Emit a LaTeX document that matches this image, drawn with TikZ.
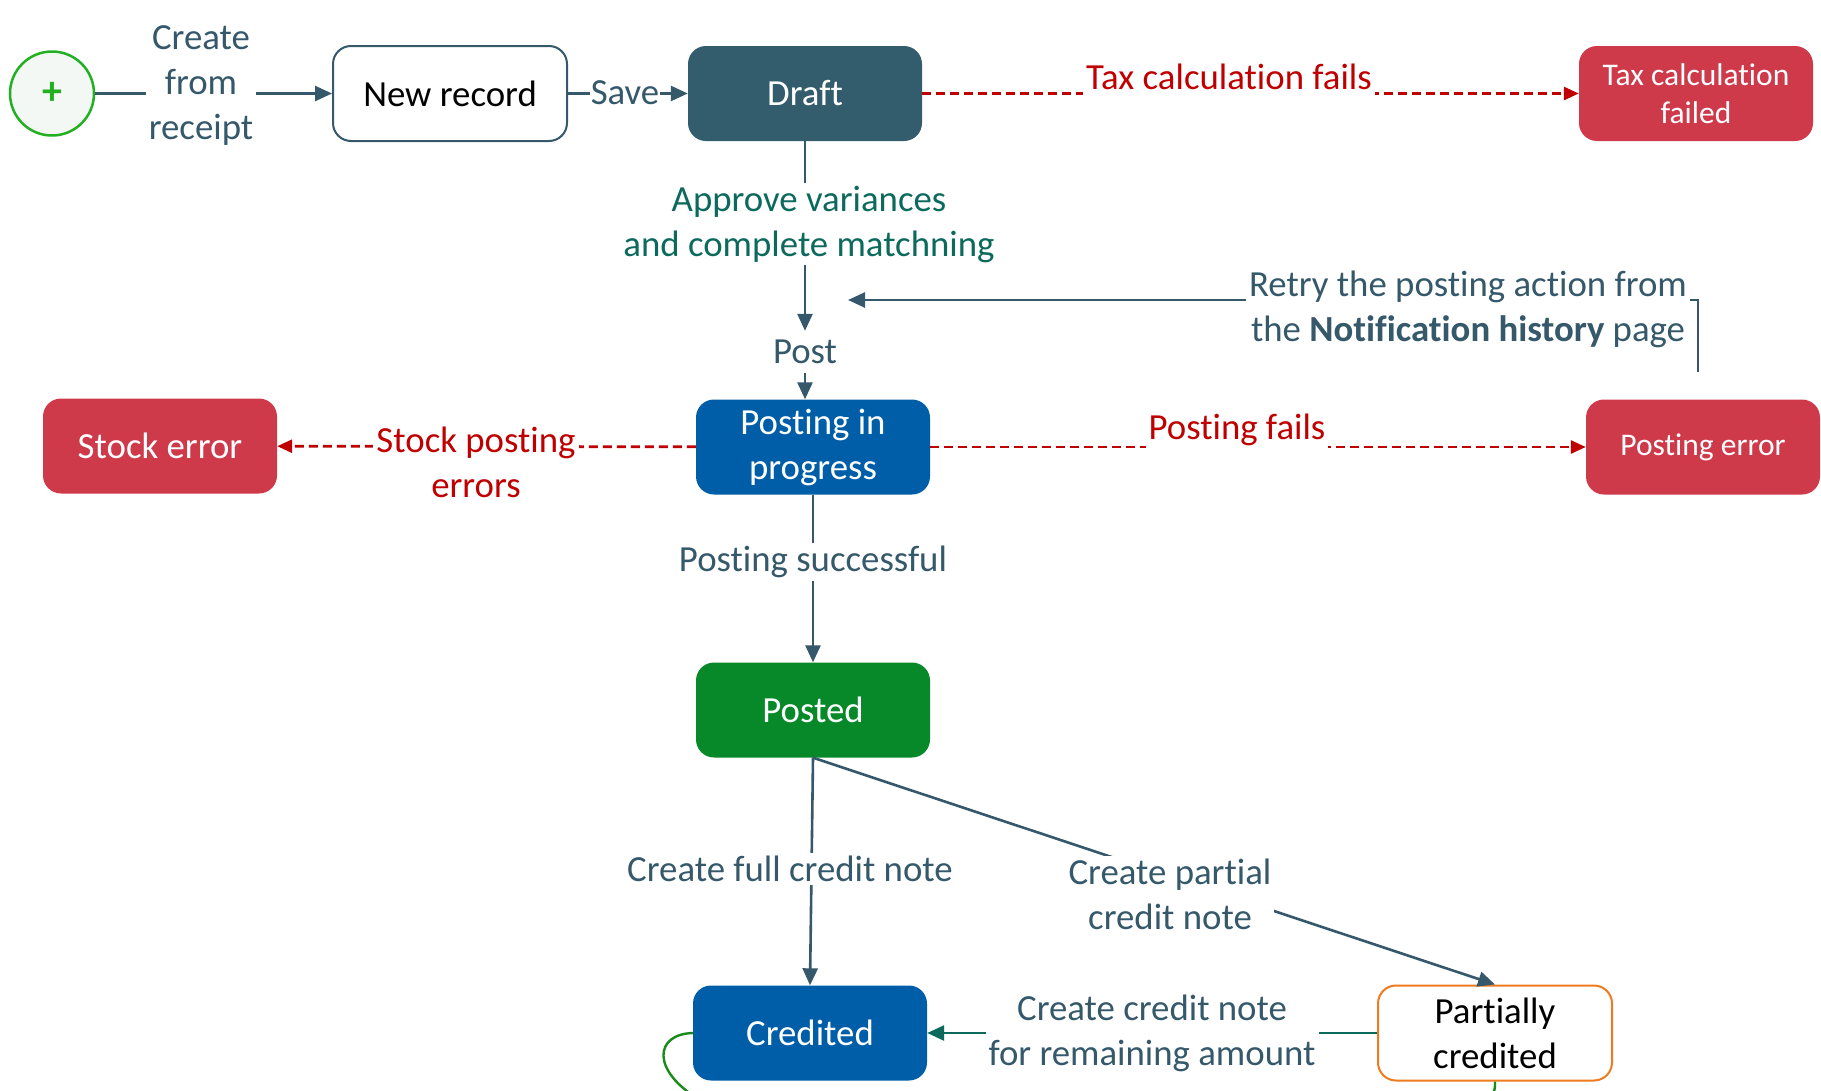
\documentclass[tikz,border=0pt]{standalone}
\usepackage{fontspec}
\setmainfont{Carlito}[Ligatures=NoCommon]
\usetikzlibrary{arrows.meta}
\newcommand\tI{t\kern0pt i}
\definecolor{slate}{HTML}{35596B}
\definecolor{draftc}{HTML}{335D6D}
\definecolor{errc}{HTML}{CF3A4B}
\definecolor{errred}{HTML}{C00000}
\definecolor{bluec}{HTML}{005EA8}
\definecolor{greenc}{HTML}{07892A}
\definecolor{tealc}{HTML}{0C6A5C}
\definecolor{orangec}{HTML}{F07A1E}
\definecolor{startgreen}{HTML}{22B022}
\definecolor{startfill}{HTML}{F4F8F4}
\definecolor{loopg}{HTML}{1A8A1A}
\newcommand\fsA{\fontsize{36.8}{45}\selectfont}
\newcommand\fsB{\fontsize{31.5}{38}\selectfont}
\newcommand\fsPlus{\fontsize{40}{40}\selectfont\bfseries}
\tikzset{
  box/.style={rounded corners=18pt, minimum width=234pt, minimum height=95pt,
    align=center, inner sep=0pt, font=\fsA},
  lbl/.style={fill=white, inner sep=3pt, align=center, font=\fsA, text=slate},
  con/.style={draw=slate, line width=2.6pt},
  arr/.style={con, -{Triangle[length=17pt,width=15pt]}},
  errline/.style={draw=errred, line width=2.8pt, dash pattern=on 9pt off 5pt,
    -{Triangle[length=15pt,width=13pt]}},
  loopline/.style={draw=loopg, line width=2.4pt},
}
\begin{document}
\begin{tikzpicture}[x=1pt,y=-1pt]
\useasboundingbox (0,0) rectangle (1821,1090);
\clip (0,0) rectangle (1821,1090);
\fill[white] (0,0) rectangle (1821,1090);

% states
\node[circle, draw=startgreen, line width=2.5pt, fill=startfill, minimum size=84pt,
      inner sep=0pt, text=startgreen, font=\fsPlus] (start) at (52,93.5) {+};
\node[box, draw=slate, line width=2pt, fill=white, text=black] (newrec) at (450,93.5) {New record};
\node[box, fill=draftc, text=white] (draft) at (805,93.5) {Draft};
\node[box, fill=errc, text=white, font=\fsB] (taxf) at (1696,93.5) {Tax calcula\tI{}on\\failed};
\node[box, fill=bluec, text=white] (pip) at (813,447) {Pos\tI{}ng in\\progress};
\node[box, fill=errc, text=white] (stock) at (160,446) {Stock error};
\node[box, fill=errc, text=white, font=\fsB] (perr) at (1703,447) {Pos\tI{}ng error};
\node[box, fill=greenc, text=white] (posted) at (813,710) {Posted};
\node[box, fill=bluec, text=white] (cred) at (810,1033) {Credited};
\node[box, draw=orangec, line width=2pt, fill=white, text=black] (partial) at (1495,1033) {Partially\\credited};
\node[font=\fsA, text=slate, minimum height=42pt, inner sep=0pt] (post) at (805,352) {Post};
\coordinate (retryend) at (848,300);

% connectors
\draw[arr] (start) -- (newrec);
\draw[arr] (newrec) -- (draft);
\draw[errline] (draft) -- (taxf);
\draw[arr] (draft) -- (post);
\draw[arr] (post) -- (post |- pip.north);
\draw[arr] ([xshift=-5pt,yshift=27pt]perr.north) |- (retryend);
\draw[errline] (pip) -- (stock);
\draw[errline] (pip) -- (perr);
\draw[arr] (pip) -- (posted);
\draw[arr] (posted.south) -- (cred.north);
\draw[arr] (posted.south) -- (partial.north);
\draw[arr, draw=tealc] (partial) -- (cred);
\draw[loopline] (cred.west) .. controls (655,1034) and (650,1070) .. (700,1100);
\draw[loopline] (partial.south) .. controls (1495,1092) .. (1486,1102);

% labels
\node[lbl] (l1) at (201,86) {Create\\from\\receipt};
\node[lbl, inner xsep=1pt] (l2) at (625,93) {Save};
\node[lbl, text=errred, inner ysep=9pt] (l3) at (1229,77) {Tax calcula\tI{}on fails};
\node[lbl, text=tealc] (l4) at (809,224) {Approve variances\\and complete matchning};
\node[lbl] (l5) at (1468,309) {Retry the pos\tI{}ng ac\tI{}on from\\the \textbf{Notifica\tI{}on history} page};
\node[lbl, text=errred] (l6) at (476,462) {Stock pos\tI{}ng\\errors};
\node[lbl, text=errred, inner ysep=10pt] (l7) at (1237,430) {Pos\tI{}ng fails};
\node[lbl] (l8) at (813,562) {Pos\tI{}ng successful};
\node[lbl] (l9) at (790,869) {Create full credit note};
\node[lbl] (l10) at (1170,894) {Create par\tI{}al\\credit note};
\node[lbl] (l11) at (1152,1033) {Create credit note\\for remaining amount};
\end{tikzpicture}
\end{document}
